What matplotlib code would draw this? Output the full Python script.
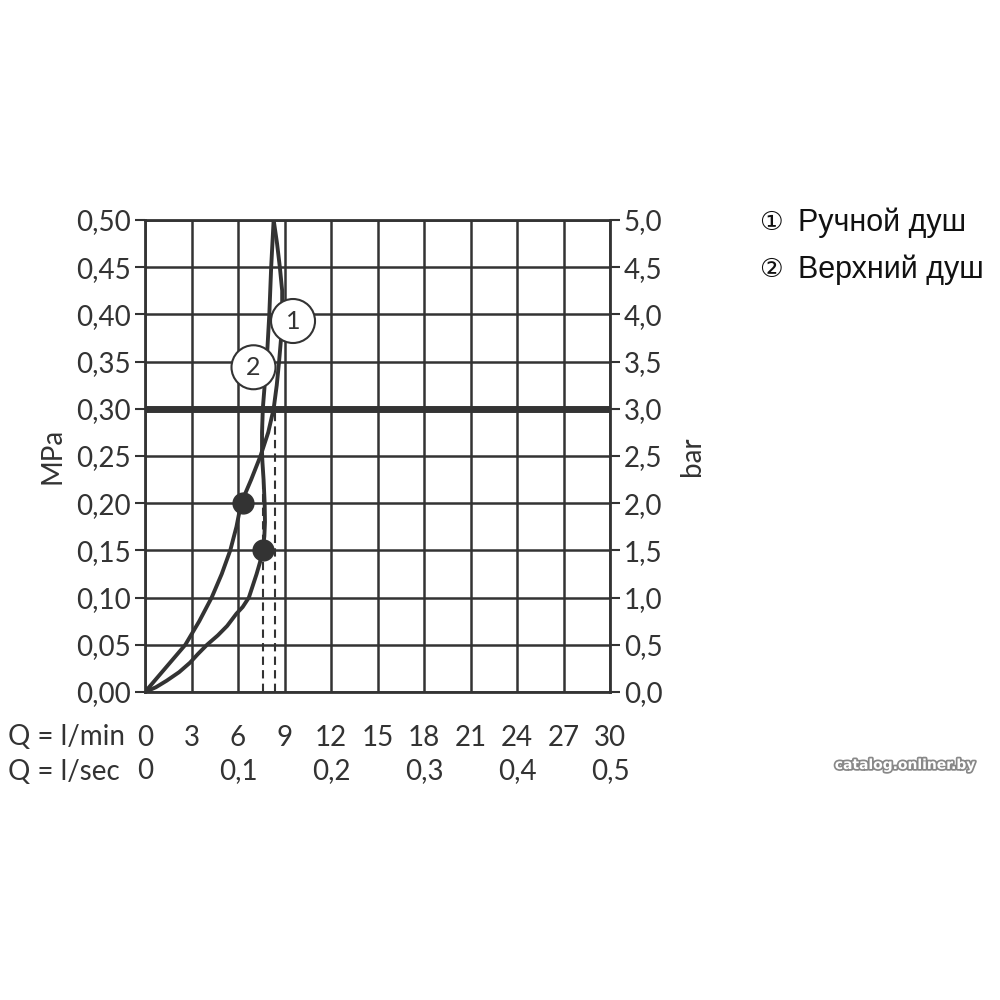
import numpy as np
import matplotlib as mpl
mpl.use('Agg')
import matplotlib.pyplot as plt
import matplotlib.patheffects as pe

# flow in l/min, pressure in MPa
c1_flow = [0, 1.3, 2.6, 3.5, 4.3, 4.95, 5.5, 5.9, 6.2, 6.85, 7.45, 7.95, 8.3, 8.5, 8.65, 8.78, 8.85, 8.85, 8.7, 8.52, 8.3]
c1_pres = [0, 0.025, 0.05, 0.075, 0.10, 0.125, 0.15, 0.175, 0.20, 0.225, 0.25, 0.275, 0.30, 0.325, 0.35, 0.375, 0.40, 0.425, 0.45, 0.475, 0.50]
c2_flow = [0, 0.7, 1.4, 2.2, 2.9, 3.4, 4.0, 4.7, 5.3, 5.9, 6.3, 6.7, 6.95, 7.2, 7.42, 7.6, 7.7, 7.74, 7.72, 7.65, 7.55, 7.55, 7.6, 7.72, 7.85, 8.02, 8.14, 8.3]
c2_pres = [0, 0.005, 0.012, 0.021, 0.031, 0.04, 0.05, 0.06, 0.07, 0.083, 0.09, 0.10, 0.1125, 0.125, 0.1375, 0.15, 0.165, 0.18, 0.20, 0.225, 0.25, 0.275, 0.30, 0.325, 0.35, 0.40, 0.45, 0.50]
dots_flow = [6.3, 7.6]
dots_pres = [0.20, 0.15]
dash_flow = [7.6, 8.4]
ref_pres = 0.30

lmin_ticks = list(range(0, 31, 3))
lsec_pos = [0, 6, 12, 18, 24, 30]
lsec_labels = ['0', '0,1', '0,2', '0,3', '0,4', '0,5']
mpa_ticks = [i * 0.05 for i in range(11)]
bar_ticks = [i * 0.5 for i in range(11)]
legend_marks = ['\u2460', '\u2461']
legend_names = ['Ручной душ', 'Верхний душ']

ink = '#333333'
plt.rcParams['font.family'] = ['Lato', 'DejaVu Sans']

fig = plt.figure(figsize=(10, 10), dpi=100)
ax = fig.add_axes([0.145, 0.308, 0.465, 0.472])
ax.set_xlim(0, 30)
ax.set_ylim(0, 0.5)

# grid
for x in lmin_ticks:
    ax.axvline(x, color=ink, lw=1.8, zorder=1)
for y in mpa_ticks:
    ax.axhline(y, color=ink, lw=1.8, zorder=1)
ax.axhline(ref_pres, color=ink, lw=5, zorder=2)

for x in dash_flow:
    ax.plot([x, x], [0, ref_pres], color=ink, lw=1.5, ls=(0, (4, 2.5)), zorder=2)

ax.plot(c1_flow, c1_pres, color=ink, lw=2.8, zorder=3, solid_capstyle='round', solid_joinstyle='round')
ax.plot(c2_flow, c2_pres, color=ink, lw=2.8, zorder=3, solid_capstyle='round', solid_joinstyle='round')
ax.plot(dots_flow, dots_pres, 'o', color=ink, ms=15, zorder=4)

# number circles
for (x, y, t) in [(9.55, 0.393, '1'), (7.0, 0.344, '2')]:
    ax.text(x, y, t, ha='center', va='center', fontsize=18, color=ink, zorder=6,
            bbox=dict(boxstyle='circle,pad=0.42', fc='white', ec=ink, lw=1.5))

for s in ax.spines.values():
    s.set_color(ink)
    s.set_linewidth(2)

ax.set_xticks(lmin_ticks)
ax.set_xticklabels([str(v) for v in lmin_ticks])
ax.tick_params(axis='x', length=0, pad=24, labelsize=20, labelcolor=ink)
ax.set_yticks(mpa_ticks)
ax.set_yticklabels([f'{v:.2f}'.replace('.', ',') for v in mpa_ticks])
ax.tick_params(axis='y', length=7, width=1.5, color=ink, pad=3, labelsize=20, labelcolor=ink)
ax.set_ylabel('MPa', fontsize=20, color=ink, labelpad=8)

ax2 = ax.twinx()
ax2.set_ylim(0, 5)
ax2.set_yticks(bar_ticks)
ax2.set_yticklabels([f'{v:.1f}'.replace('.', ',') for v in bar_ticks])
ax2.tick_params(axis='y', length=7, width=1.5, color=ink, pad=3, labelsize=20, labelcolor=ink)
ax2.set_ylabel('bar', fontsize=20, color=ink, rotation=90, labelpad=12)
for s in ax2.spines.values():
    s.set_visible(False)

# l/sec row
tr = ax.get_xaxis_transform()
for x, lab in zip(lsec_pos, lsec_labels):
    ax.text(x, -0.168, lab, transform=tr, ha='center', va='center', fontsize=20, color=ink)
fig.text(0.008, 0.263, 'Q = l/min', ha='left', va='center', fontsize=20, color=ink)
fig.text(0.008, 0.228, 'Q = l/sec', ha='left', va='center', fontsize=20, color=ink)

# legend
for i, (m, t) in enumerate(zip(legend_marks, legend_names)):
    yy = 0.777 - i * 0.047
    fig.text(0.771, yy, m, ha='center', va='center', fontsize=19, color='#111111',
             family='DejaVu Sans')
    fig.text(0.798, yy, t, ha='left', va='center', fontsize=22, color='#111111',
             family=['Liberation Sans', 'DejaVu Sans'])

fig.text(0.905, 0.235, 'catalog.onliner.by', ha='center', va='center', fontsize=10,
         fontweight='bold', color='white', family='DejaVu Sans',
         path_effects=[pe.withStroke(linewidth=2.5, foreground='#888888')])

fig.savefig('out.png', dpi=100, facecolor='white')
